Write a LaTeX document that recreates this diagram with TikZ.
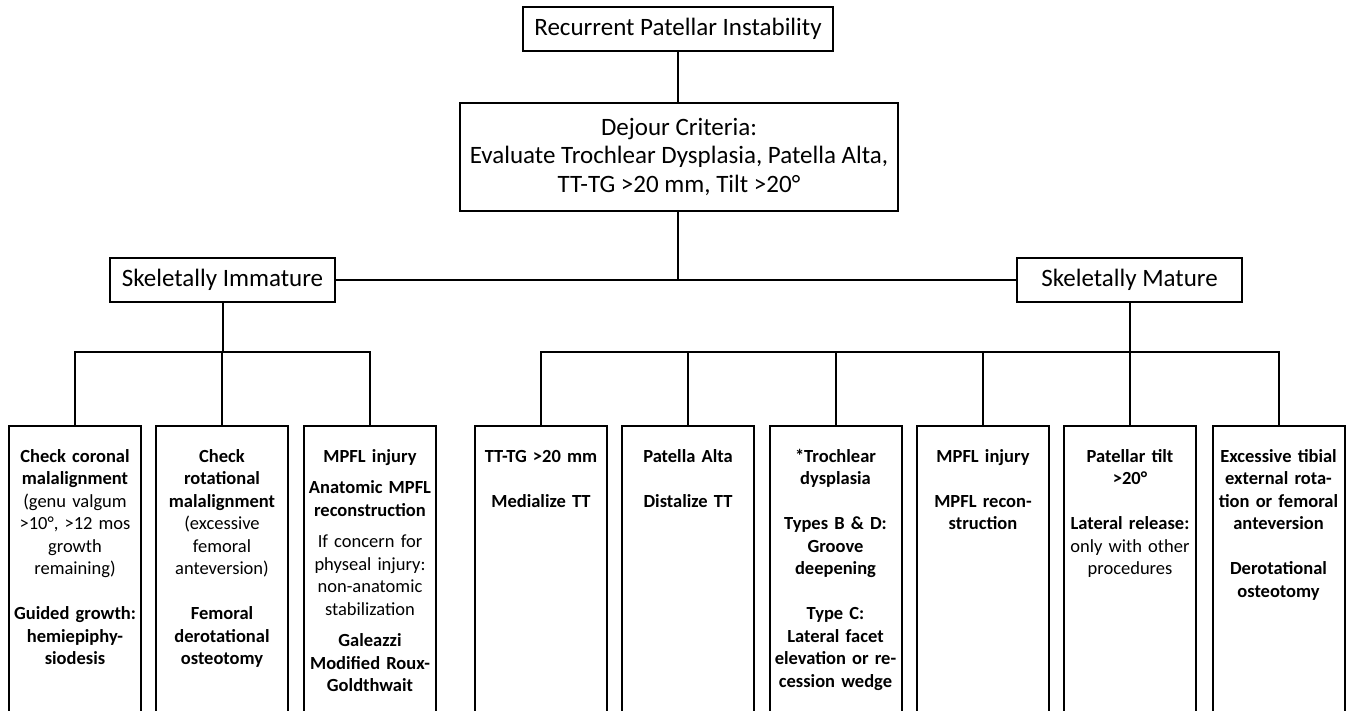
\documentclass[tikz,border=0pt]{standalone}
\usepackage{fontspec}
\setmainfont{Carlito}
\begin{document}
\begin{tikzpicture}[x=1pt,y=-1pt,
  box/.style={draw,line width=2pt,inner sep=0pt,align=center,
    font=\fontsize{25}{28.5}\selectfont},
  leaf/.style={draw,line width=2pt,minimum width=132pt,minimum height=320pt,
    anchor=north,inner sep=0pt},
  leaftext/.style={anchor=base,text width=140pt,align=center,inner sep=0pt,
    font=\fontsize{18.5}{22.5}\selectfont\bfseries},
  link/.style={line width=2pt}]
\useasboundingbox (0,0) rectangle (1347,711);
% top of the chart
\node[box,minimum width=310pt,minimum height=44pt] (rpi) at (678,29) {Recurrent Patellar Instability};
\node[box,minimum width=438pt,minimum height=108pt] (dej) at (679,157)
  {Dejour Criteria:\\Evaluate Trochlear Dysplasia, Patella Alta,\\TT-TG >20 mm, Tilt >20°};
\node[box,minimum width=225pt,minimum height=44pt] (imm) at (222.5,280) {Skeletally Immature};
\node[box,minimum width=225pt,minimum height=44pt] (mat) at (1129.5,280) {Skeletally Mature};
% bottom boxes, cut off by the page
\foreach \x/\n in {75/l1,222/l2,370/l3,541/r1,688/r2,835.5/r3,983/r4,1130/r5,1278.5/r6}
  \node[leaf] (\n) at (\x,425) {};
\node[leaftext] (tl1) at (l1.north |- 0,462) {Check coronal\\malalignment\\{\mdseries (genu valgum\\>10°, >12 mos\\growth\\remaining)}\\[22.5pt]Guided growth:\\hemiepiphy-\\siodesis};
\node[leaftext] (tl2) at (l2.north |- 0,462) {Check\\rotational\\malalignment\\{\mdseries (excessive\\femoral\\anteversion)}\\[22.5pt]Femoral\\derotational\\osteotomy};
\node[leaftext] (tl3) at (l3.north |- 0,462) {MPFL injury\\[9pt]Anatomic MPFL\\reconstruction\\[9pt]{\mdseries If concern for\\physeal injury:\\non-anatomic\\stabilization}\\[9pt]Galeazzi\\Modified Roux-\\Goldthwait};
\node[leaftext] (tr1) at (r1.north |- 0,462) {TT-TG >20 mm\\[22.5pt]Medialize TT};
\node[leaftext] (tr2) at (r2.north |- 0,462) {Patella Alta\\[22.5pt]Distalize TT};
\node[leaftext] (tr3) at (r3.north |- 0,462) {*Trochlear\\dysplasia\\[22.5pt]Types B \& D:\\Groove\\deepening\\[22.5pt]Type C:\\Lateral facet\\elevation or re-\\cession wedge};
\node[leaftext] (tr4) at (r4.north |- 0,462) {MPFL injury\\[22.5pt]MPFL recon-\\struction};
\node[leaftext] (tr5) at (r5.north |- 0,462) {Patellar tilt\\>20°\\[22.5pt]Lateral release:\\{\mdseries only with other\\procedures}};
\node[leaftext] (tr6) at (r6.north |- 0,462) {Excessive tibial\\external rota-\\tion or femoral\\anteversion\\[22.5pt]Derotational\\osteotomy};
% connectors
\coordinate (ibar) at (222.5,352);
\coordinate (mbar) at (1129.5,352);
\draw[link] (rpi) -- (rpi |- dej.north);
\draw[link] (imm) -- (mat);
\draw[link] (dej.south -| rpi) -- (rpi |- imm.east);
\draw[link] (imm) -- (ibar);
\draw[link] (l1.north) |- (ibar) -| (l3.north);
\draw[link] (l2.north) -- (l2.north |- ibar);
\draw[link] (mat) -- (mbar);
\draw[link] (r1.north) |- (mbar) -| (r6.north);
\foreach \n in {r2,r3,r4,r5}
  \draw[link] (\n.north) -- (\n.north |- mbar);
\end{tikzpicture}
\end{document}
